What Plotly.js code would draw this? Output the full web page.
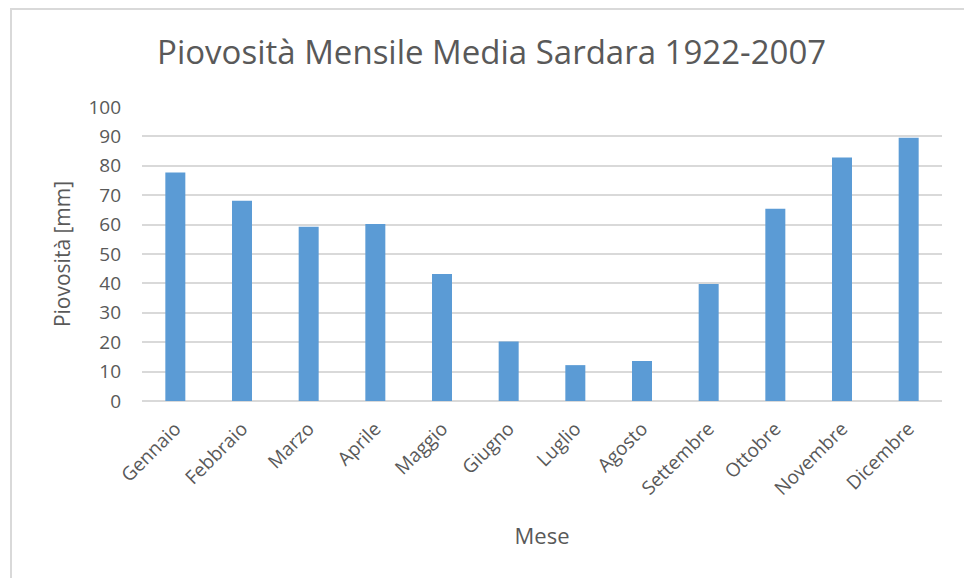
<!DOCTYPE html>
<html>
<head>
<meta charset="utf-8">
<script src="https://cdn.plot.ly/plotly-3.0.1.min.js"></script>
<style>
html,body{margin:0;padding:0;background:#fff;}
#wrap{position:relative;width:964px;height:578px;overflow:hidden;}
#chart{position:absolute;left:0;top:0;width:964px;height:578px;}
#frame{position:absolute;left:10px;top:8px;width:980px;height:600px;border:2px solid #d9d9d9;pointer-events:none;box-sizing:border-box;}
</style>
</head>
<body>
<div id="wrap"><div id="chart"></div><div id="frame"></div></div>
<script>
const months = ["Gennaio","Febbraio","Marzo","Aprile","Maggio","Giugno","Luglio","Agosto","Settembre","Ottobre","Novembre","Dicembre"];
const rainfall = [77.7, 68.1, 59.3, 60.2, 43.2, 20.2, 12.2, 13.6, 39.8, 65.4, 82.8, 89.5];
const yTicks = [0,10,20,30,40,50,60,70,80,90,100];

const txt = "#595959";
const fontFam = "Open Sans, Noto Sans, sans-serif";

Plotly.newPlot("chart", [{
  type: "bar",
  x: months,
  y: rainfall,
  marker: {color: "#5b9bd5", line: {color: "#5b9bd5", width: 0}},
  hoverinfo: "x+y"
}], {
  width: 964, height: 578,
  margin: {l: 142, r: 22, t: 107, b: 177},
  paper_bgcolor: "rgba(0,0,0,0)",
  plot_bgcolor: "rgba(0,0,0,0)",
  bargap: 0.7,
  title: {text: "Piovosità Mensile Media Sardara 1922-2007", font: {family: fontFam, size: 33, color: txt}, x: 0.51, xanchor: "center", y: 0.91, yanchor: "middle"},
  xaxis: {
    tickangle: -45,
    tickfont: {family: fontFam, size: 19, color: txt},
    ticklabelstandoff: 12,
    title: {text: "Mese", font: {family: fontFam, size: 22, color: txt}, standoff: 28},
    showgrid: false, zeroline: false, showline: false, ticks: ""
  },
  yaxis: {
    range: [0, 100],
    tickvals: yTicks,
    ticktext: yTicks.map(String),
    tickfont: {family: fontFam, size: 19, color: txt},
    title: {text: "Piovosità [mm]", font: {family: fontFam, size: 21, color: txt}, standoff: 12},
    gridcolor: "#d9d9d9", gridwidth: 1.5,
    zeroline: true, zerolinecolor: "#d9d9d9", zerolinewidth: 1.5,
    showline: false, ticks: "", ticklabelstandoff: 20
  },
  showlegend: false
}, {displayModeBar: false});
</script>
</body>
</html>
